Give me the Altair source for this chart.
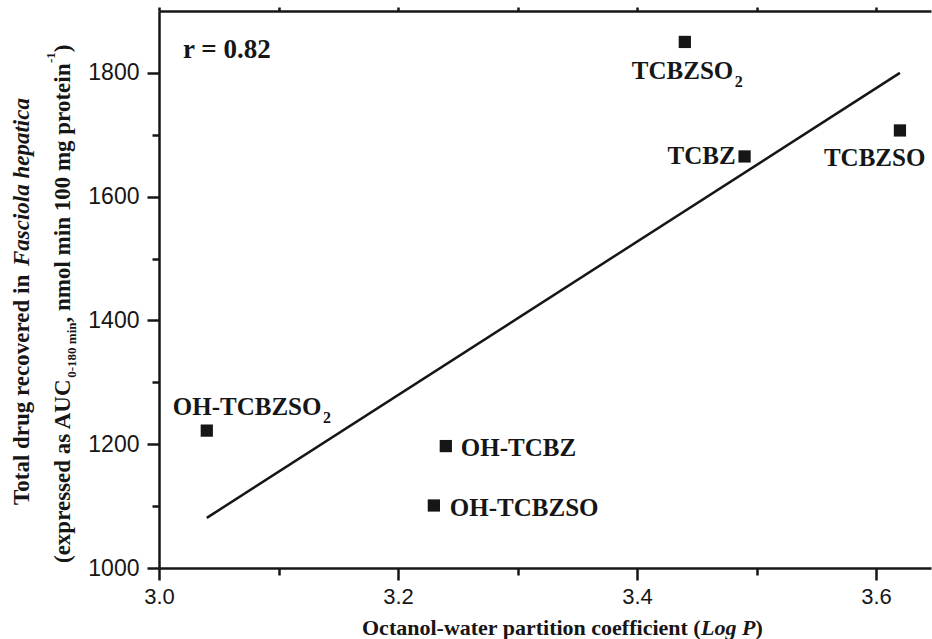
import altair as alt
import pandas as pd

# ---------------- data ----------------
compounds = ["TCBZSO2", "TCBZ", "TCBZSO", "OH-TCBZSO2", "OH-TCBZ", "OH-TCBZSO"]
log_p = [3.44, 3.49, 3.62, 3.04, 3.24, 3.23]
auc = [1850, 1665, 1707, 1222, 1197, 1101]
label_main = ["TCBZSO", "TCBZ", "TCBZSO", "OH-TCBZSO", "OH-TCBZ", "OH-TCBZSO"]
label_sub = ["2", "", "", "2", "", ""]

fit_x = [3.04, 3.62]
fit_y = [1081, 1800]
r_text = ["r = 0.82"]

x_ticks = [3.0, 3.2, 3.4, 3.6]
x_minor = [3.1, 3.3, 3.5]
x_top = [3.0, 3.1, 3.2, 3.3, 3.4, 3.5, 3.6]
y_ticks = [1000, 1200, 1400, 1600, 1800]
y_minor = [1100, 1300, 1500, 1700]
x_domain = [3.0, 3.646]
y_domain = [1000, 1900]

x_title = ["Octanol-water partition coefficient (", "Log P", ")"]
y_title1 = ["Total drug recovered in", "Fasciola hepatica"]
y_title2 = ["(expressed as AUC", "0-180 min", ", nmol min 100 mg protein", "-1", ")"]

# ---------------- helpers (layout only) ----------------
W_BOLD = {" ": 250, "(": 333, ")": 333, ",": 250, "-": 333, ".": 250, "=": 570,
          "A": 722, "B": 667, "C": 722, "H": 778, "L": 667, "O": 778, "P": 611,
          "S": 556, "T": 667, "U": 722, "Z": 667, "a": 500, "b": 556, "c": 444,
          "d": 556, "e": 444, "f": 333, "g": 500, "h": 556, "i": 278, "l": 278,
          "m": 833, "n": 556, "o": 500, "p": 556, "r": 444, "s": 389, "t": 333,
          "u": 556, "v": 500, "w": 722, "x": 500, "y": 500}
W_BI = {" ": 250, "F": 667, "L": 611, "P": 611, "a": 500, "c": 444, "e": 444,
        "g": 500, "h": 556, "i": 278, "l": 278, "o": 500, "p": 500, "s": 389, "t": 278}


def tw(text, size, italic=False):
    table = W_BI if italic else W_BOLD
    return sum(table.get(ch, 500) for ch in text) * size / 1000.0


SERIF = "Liberation Serif"
INK = "#161616"
PW, PH = 772, 557

df = pd.DataFrame({"compound": compounds, "logp": log_p, "auc": auc,
                   "main": label_main, "sub": label_sub})
fit_df = pd.DataFrame({"x": fit_x, "y": fit_y})

xs = alt.Scale(domain=x_domain, nice=False, zero=False)
ys = alt.Scale(domain=y_domain, nice=False, zero=False)

# points + major axes
points = alt.Chart(df).mark_square(size=150, color=INK, opacity=1).encode(
    x=alt.X("logp:Q", scale=xs,
            axis=alt.Axis(values=x_ticks, format=".1f", tickSize=12, labelPadding=6,
                          labelFlush=False, labelFontSize=22,
                          title=None, orient="bottom", domain=True)),
    y=alt.Y("auc:Q", scale=ys,
            axis=alt.Axis(values=y_ticks, format="d", tickSize=12, labelPadding=8,
                          labelFlush=False, labelFontSize=23,
                          title=None, orient="left", domain=True)),
)

# minor ticks
minor = alt.Chart(df).mark_square(opacity=0).encode(
    x=alt.X("logp:Q", scale=xs,
            axis=alt.Axis(values=x_minor, tickSize=7, labels=False, domain=False,
                          title=None, orient="bottom")),
    y=alt.Y("auc:Q", scale=ys,
            axis=alt.Axis(values=y_minor, tickSize=7, labels=False, domain=False,
                          title=None, orient="left")),
)

# top frame line with small ticks
top = alt.Chart(df).mark_square(opacity=0).encode(
    x=alt.X("logp:Q", scale=xs,
            axis=alt.Axis(values=x_top, tickSize=4, labels=False, domain=True,
                          title=None, orient="top")),
    y=alt.Y("auc:Q", scale=ys, axis=None),
)

fit = alt.Chart(fit_df).mark_line(color=INK, strokeWidth=2.5).encode(
    x=alt.X("x:Q", scale=xs, axis=None),
    y=alt.Y("y:Q", scale=ys, axis=None),
)

# label placement (style only): align, dx, dy for the name
LAB = 25
place = {
    "TCBZSO2": ("left", -53, 37),
    "TCBZ": ("right", -9, 8),
    "TCBZSO": ("left", -76, 36),
    "OH-TCBZSO2": ("left", -34, -16),
    "OH-TCBZ": ("left", 15, 10),
    "OH-TCBZSO": ("left", 16, 11),
}
sub_place = {"TCBZSO2": (-53, 45), "OH-TCBZSO2": (-34, -8)}

label_layers = []
for name, main in zip(compounds, label_main):
    al, dx, dy = place[name]
    label_layers.append(
        alt.Chart(df).transform_filter(alt.datum.compound == name).mark_text(
            align=al, baseline="alphabetic", dx=dx, dy=dy, font=SERIF,
            fontWeight="bold", fontSize=LAB, color=INK).encode(
            x=alt.X("logp:Q", scale=xs, axis=None),
            y=alt.Y("auc:Q", scale=ys, axis=None),
            text="main:N"))
    if name in sub_place:
        sdx, sdy = sub_place[name]
        sdx = sdx + tw(main, LAB) + 1.5
        label_layers.append(
            alt.Chart(df).transform_filter(alt.datum.compound == name).mark_text(
                align="left", baseline="alphabetic", dx=sdx, dy=sdy, font=SERIF,
                fontWeight="bold", fontSize=16, color=INK).encode(
                x=alt.X("logp:Q", scale=xs, axis=None),
                y=alt.Y("auc:Q", scale=ys, axis=None),
                text="sub:N"))


def txt(s, x, y, size, italic=False, angle=0, align="left"):
    kw = dict(align=align, baseline="alphabetic", font=SERIF, fontWeight="bold",
              fontSize=size, color=INK)
    if italic:
        kw["fontStyle"] = "italic"
    if angle:
        kw["angle"] = angle
    return alt.Chart(pd.DataFrame({"t": [s]})).mark_text(**kw).encode(
        x=alt.value(x), y=alt.value(y), text="t:N")


OX, OY = 159, 11  # plot origin in the page
annot = [txt(r_text[0], 183 - OX, 58 - OY, 27)]

# x-axis title
XT = 22
xx = 362 - OX
xb = 635 - OY
annot.append(txt(x_title[0], xx, xb, XT))
xx += tw(x_title[0], XT)
annot.append(txt(x_title[1], xx, xb, XT, italic=True))
xx += tw(x_title[1], XT, italic=True)
annot.append(txt(x_title[2], xx, xb, XT))

# y-axis title, line 1 (rotated, reading upward)
YT = 23
yb1 = 28.5 - OX
yy = 505 - OY
annot.append(txt(y_title1[0], yb1, yy, YT, angle=270))
yy -= tw(y_title1[0] + " ", YT)
annot.append(txt(y_title1[1], yb1, yy, YT, italic=True, angle=270))

# y-axis title, line 2
SUBS = 13
yb2 = 70 - OX
yy = 563 - OY
annot.append(txt(y_title2[0], yb2, yy, YT, angle=270))
yy -= tw(y_title2[0], YT)
annot.append(txt(y_title2[1], yb2 + 6, yy, SUBS, angle=270))
yy -= tw(y_title2[1], SUBS)
annot.append(txt(y_title2[2], yb2, yy, YT, angle=270))
yy -= tw(y_title2[2], YT)
annot.append(txt(y_title2[3], yb2 - 15, yy, SUBS, angle=270))
yy -= tw(y_title2[3], SUBS)
annot.append(txt(y_title2[4], yb2, yy, YT, angle=270))

chart = alt.layer(points, minor, top, fit, *label_layers, *annot).resolve_axis(
    x="independent", y="independent"
).properties(
    width=PW, height=PH,
    autosize=alt.AutoSizeParams(type="none"),
    padding={"left": OX, "top": OY, "right": 932 - OX - PW, "bottom": 639 - OY - PH},
).configure_view(stroke=None).configure_axis(
    domainColor=INK, tickColor=INK, domainWidth=2.5, tickWidth=2.5, grid=False,
    labelFont="Liberation Sans", labelColor=INK,
)

chart.save("out.html", embed_options={"renderer": "svg", "actions": False})
